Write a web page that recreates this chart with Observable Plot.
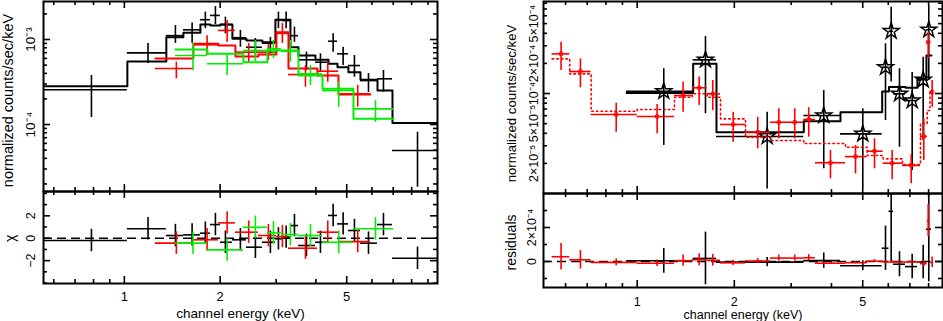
<!DOCTYPE html>
<html><head><meta charset="utf-8">
<script src="https://cdn.jsdelivr.net/npm/d3@7"></script>
<script src="https://cdn.jsdelivr.net/npm/@observablehq/plot@0.6"></script>
<style>
html,body{margin:0;padding:0;background:#fff;}
#wrap{position:relative;width:943px;height:321px;overflow:hidden;background:#fff;}
</style></head>
<body><div id="wrap"></div>
<script>
// ===== LEFT PANEL DATA (black / red / green groups) =====
const lBlackLo = [0.557, 1.022, 1.355, 1.533, 1.734, 1.864, 2.004, 2.186, 2.419, 2.716, 2.984, 3.139, 3.327, 3.526, 3.987, 4.381, 4.676, 5.062, 5.523, 6.247, 6.963];
const lBlackHi = [1.022, 1.355, 1.533, 1.734, 1.864, 2.004, 2.186, 2.419, 2.716, 2.984, 3.139, 3.327, 3.526, 3.987, 4.381, 4.676, 5.062, 5.523, 6.247, 6.963, 9.645];
const lBlackE  = [0.788, 1.187, 1.447, 1.633, 1.797, 1.933, 2.078, 2.316, 2.582, 2.878, 3.050, 3.225, 3.425, 3.736, 4.134, 4.532, 4.872, 5.287, 5.853, 6.523, 8.346];
const lBlackY  = [2.56e-4, 6.97e-4, 1.11e-3, 1.30e-3, 1.71e-3, 1.92e-3, 1.50e-3, 1.05e-3, 8.11e-4, 9.05e-4, 1.71e-3, 1.67e-3, 1.11e-3, 5.77e-4, 5.41e-4, 9.55e-4, 6.79e-4, 4.94e-4, 3.29e-4, 3.45e-4, 4.94e-5];
const lBlackYHi= [3.77e-4, 8.97e-4, 1.46e-3, 1.56e-3, 2.10e-3, 2.44e-3, 1.83e-3, 1.28e-3, 1.03e-3, 1.06e-3, 2.10e-3, 2.10e-3, 1.40e-3, 7.10e-4, 6.79e-4, 1.17e-3, 8.11e-4, 6.49e-4, 3.98e-4, 4.32e-4, 8.11e-5];
const lBlackYLo= [1.21e-4, 5.22e-4, 8.97e-4, 9.05e-4, 1.34e-3, 1.50e-3, 1.17e-3, 8.11e-4, 6.49e-4, 6.79e-4, 1.34e-3, 1.34e-3, 9.29e-4, 4.32e-4, 4.12e-4, 7.10e-4, 4.94e-4, 3.60e-4, 2.38e-4, 2.40e-4, 1.83e-5];
const lBlackModel = [2.82e-4, 5.51e-4, 1.06e-3, 1.20e-3, 1.50e-3, 1.46e-3, 1.50e-3, 1.02e-3, 9.73e-4, 9.29e-4, 1.71e-3, 1.71e-3, 8.11e-4, 6.49e-4, 5.77e-4, 5.18e-4, 4.72e-4, 4.12e-4, 3.36e-4, 2.51e-4, 1.04e-4];
const lBlackChi = [-0.2, 0.84, 0.24, 0.3, 0.45, 1.22, -0.36, -0.14, -0.8, -0.36, -0.05, 0.1, 1.13, -0.65, -0.36, 2.03, 1.28, 0.69, -0.44, 1.22, -1.79];

const lRedLo = [1.252, 1.648, 1.975, 2.234, 2.638, 3.006, 3.280, 4.045, 4.710];
const lRedHi = [1.648, 1.975, 2.234, 2.638, 3.006, 3.280, 4.045, 4.710, 5.937];
const lRedE  = [1.457, 1.820, 2.104, 2.460, 2.836, 3.139, 3.709, 4.359, 5.415];
const lRedY  = [4.56e-4, 8.66e-4, 1.28e-3, 7.10e-4, 7.10e-4, 1.18e-3, 3.87e-4, 4.24e-4, 2.30e-4];
const lRedYHi= [5.41e-4, 1.11e-3, 1.67e-3, 8.97e-4, 8.73e-4, 1.54e-3, 4.94e-4, 5.41e-4, 2.88e-4];
const lRedYLo= [3.45e-4, 6.49e-4, 9.22e-4, 5.22e-4, 5.66e-4, 8.97e-4, 2.75e-4, 3.15e-4, 1.60e-4];
const lRedModel = [5.98e-4, 8.90e-4, 8.50e-4, 6.31e-4, 6.67e-4, 1.22e-3, 4.56e-4, 3.77e-4, 2.25e-4];
const lRedChi = [-0.44, -0.14, 1.37, 0.54, 0.24, 0.15, -0.89, 0.54, -0.3];

const lGreenLo = [1.447, 1.824, 2.367, 2.817, 3.117, 3.526, 4.195, 5.250];
const lGreenHi = [1.824, 2.367, 2.817, 3.117, 3.526, 4.195, 5.250, 7.014];
const lGreenE  = [1.644, 2.104, 2.582, 2.942, 3.327, 3.846, 4.720, 6.157];
const lGreenY  = [6.49e-4, 5.18e-4, 7.43e-4, 7.77e-4, 7.28e-4, 3.95e-4, 2.51e-4, 1.53e-4];
const lGreenYHi= [8.97e-4, 6.84e-4, 9.73e-4, 9.73e-4, 9.73e-4, 4.94e-4, 3.15e-4, 1.91e-4];
const lGreenYLo= [4.32e-4, 3.77e-4, 5.41e-4, 5.98e-4, 5.41e-4, 2.88e-4, 1.60e-4, 1.06e-4];
const lGreenModel = [7.62e-4, 6.79e-4, 5.41e-4, 7.43e-4, 7.43e-4, 3.77e-4, 2.63e-4, 1.17e-4];
const lGreenChi = [-0.44, -1.04, 0.98, 0.48, 0.33, 0.24, -0.36, 0.84];

// ===== RIGHT PANEL DATA (black stars / red crosses) =====
const rRedLo = [0.545, 0.618, 0.720, 1.000, 1.305, 1.481, 1.648, 1.812, 2.166, 2.589, 2.985, 3.283, 3.568, 4.421, 5.161, 5.785, 6.640, 7.549, 7.919, 8.078];
const rRedHi = [0.618, 0.720, 1.000, 1.305, 1.481, 1.648, 1.812, 2.166, 2.589, 2.985, 3.283, 3.568, 4.421, 5.161, 5.785, 6.640, 7.549, 7.919, 8.078, 8.283];
const rRedE  = [0.581, 0.667, 0.861, 1.153, 1.388, 1.556, 1.715, 1.984, 2.364, 2.747, 3.078, 3.402, 3.972, 4.749, 5.438, 6.168, 7.066, 7.730, 7.976, 8.207];
const rRedY  = [2.49e-4, 1.66e-4, 6.17e-5, 5.89e-5, 9.55e-5, 1.14e-4, 9.93e-5, 4.90e-5, 4.10e-5, 5.16e-5, 5.16e-5, 5.50e-5, 2.03e-5, 2.34e-5, 2.65e-5, 2.01e-5, 1.91e-5, 3.72e-5, 3.26e-4, 1.03e-4];
const rRedYHi= [3.26e-4, 2.22e-4, 8.0e-5, 7.76e-5, 1.30e-4, 1.46e-4, 1.35e-4, 6.5e-5, 5.79e-5, 7.03e-5, 7.03e-5, 7.2e-5, 2.69e-5, 3.02e-5, 3.52e-5, 2.69e-5, 2.45e-5, 5.58e-5, 4.10e-4, 1.35e-4];
const rRedYLo= [1.70e-4, 1.14e-4, 4.10e-5, 3.95e-5, 6.5e-5, 7.59e-5, 6.76e-5, 3.26e-5, 2.80e-5, 3.52e-5, 3.52e-5, 3.66e-5, 1.40e-5, 1.57e-5, 1.77e-5, 1.37e-5, 1.25e-5, 2.14e-5, 2.22e-4, 7.3e-5];
const rRedModel = [2.22e-4, 1.57e-4, 6.65e-5, 6.92e-5, 9.18e-5, 9.93e-5, 9.18e-5, 5.58e-5, 3.66e-5, 3.39e-5, 3.39e-5, 3.16e-5, 3.16e-5, 2.90e-5, 2.40e-5, 2.22e-5, 1.95e-5, 5.01e-5, 6.76e-5, 1.07e-4];
const rRedResid = [0.28e-4, 0.1e-4, -0.05e-4, -0.1e-4, 0.05e-4, 0.1e-4, 0.07e-4, -0.08e-4, 0.03e-4, 0.2e-4, 0.2e-4, 0.22e-4, -0.1e-4, -0.07e-4, 0.02e-4, -0.03e-4, -0.03e-4, -0.13e-4, 2.4e-4, -0.05e-4];
const rRedResidErr = [0.78e-4, 0.54e-4, 0.2e-4, 0.19e-4, 0.33e-4, 0.35e-4, 0.34e-4, 0.16e-4, 0.15e-4, 0.18e-4, 0.18e-4, 0.18e-4, 0.065e-4, 0.07e-4, 0.09e-4, 0.07e-4, 0.06e-4, 0.17e-4, 0.94e-4, 0.31e-4];

const rBlackLo = [0.927, 1.491, 1.761, 3.283, 4.266, 5.744, 6.029, 6.226, 6.783, 7.389, 7.878];
const rBlackHi = [1.491, 1.761, 3.283, 4.266, 5.744, 6.029, 6.226, 6.783, 7.389, 7.878, 8.166];
const rBlackE  = [1.209, 1.628, 2.528, 3.786, 5.002, 5.882, 6.125, 6.499, 7.115, 7.697, 8.010];
const rBlackY  = [1.05e-4, 2.17e-4, 3.72e-5, 6.03e-5, 3.95e-5, 1.83e-4, 4.20e-4, 9.93e-5, 8.51e-5, 1.37e-4, 4.34e-4];
const rBlackYHi= [1.77e-4, 3.72e-4, 6.5e-5, 1.07e-4, 7.03e-5, 3.14e-4, 7.3e-4, 1.77e-4, 1.62e-4, 2.31e-4, 7.59e-4];
const rBlackYLo= [3.02e-5, 6.27e-5, 1.11e-5, 1.77e-5, 1.16e-5, 5.37e-5, 1.30e-4, 2.90e-5, 1.70e-5, 3.39e-5, 1.35e-4];
const rBlackModel = [1.01e-4, 1.98e-4, 4.10e-5, 5.28e-5, 6.5e-5, 1.05e-4, 1.16e-4, 1.16e-4, 1.14e-4, 1.40e-4, 2.40e-4];
const rBlackResid = [0.04e-4, 0.18e-4, -0.04e-4, 0.05e-4, -0.25e-4, 0.78e-4, 2.95e-4, -0.16e-4, -0.3e-4, -0.03e-4, 1.9e-4];
const rBlackResidErr = [0.73e-4, 1.55e-4, 0.27e-4, 0.45e-4, 0.29e-4, 1.3e-4, 3.0e-4, 0.74e-4, 0.72e-4, 0.99e-4, 3.1e-4];

// ===== AXES: domains, ticks, labels =====
const leftXDomain = [0.557, 9.645];
const rightXDomain = [0.5125, 8.834];
const leftUpperY = [1.63e-5, 2.80e-3];
const leftChiY = [-4.04, 4.17];
const rightUpperY = [1.0e-5, 8.32e-4];
const rightResidY = [-1.53e-4, 4.0e-4];

const xMajorTicks = [1, 2, 5];
const xMinorTicks = [0.6, 0.7, 0.8, 0.9, 3, 4, 6, 7, 8, 9];
const xTickText = ["1", "2", "5"];
const leftYMajor = [1e-4, 1e-3];
const leftYMinor = [2e-5, 3e-5, 4e-5, 5e-5, 6e-5, 7e-5, 8e-5, 9e-5, 2e-4, 3e-4, 4e-4, 5e-4, 6e-4, 7e-4, 8e-4, 9e-4, 2e-3];
const leftYLabelVals = [1e-3, 1e-4];
const leftYLabelText = ["10\u207B\u00B3", "10\u207B\u2074"];
const chiMajor = [-2, 0, 2];
const chiMinor = [-4, -3, -1, 1, 3, 4];
const chiLabelText = ["\u22122", "0", "2"];
const rightYMajor = [1e-4];
const rightYMinor = [2e-5, 3e-5, 4e-5, 5e-5, 6e-5, 7e-5, 8e-5, 9e-5, 2e-4, 3e-4, 4e-4, 5e-4, 6e-4, 7e-4, 8e-4];
const rightYLabelVals = [2e-5, 5e-5, 1e-4, 2e-4, 5e-4];
const rightYLabelText = ["2\u00D710\u207B\u2075", "5\u00D710\u207B\u2075", "10\u207B\u2074", "2\u00D710\u207B\u2074", "5\u00D710\u207B\u2074"];
const residMajor = [0, 2e-4];
const residMinor = [-1e-4, 1e-4, 3e-4];
const residLabelText = ["0", "2\u00D710\u207B\u2074"];

const yTitle = "normalized counts/sec/keV";
const xTitle = "channel energy (keV)";

// ===== helpers =====
const FONT = "'Liberation Sans', Arial, Helvetica, sans-serif";
const RED = "#ff0000", GREEN = "#00ee00", BLACK = "#000000";
const TXT = {fill: BLACK, textAnchor: "middle", lineAnchor: "middle"};

function rowsOf(lo, hi, e, y, ylo, yhi, model, res, resErr) {
  return lo.map((l, i) => ({lo: l, hi: hi[i], e: e[i], y: y[i], ylo: ylo[i], yhi: yhi[i],
    model: model[i], res: res[i], resErr: resErr ? resErr[i] : 1}));
}
function stepsOf(rows) {
  return rows.flatMap(r => [{x: r.lo, y: r.model}, {x: r.hi, y: r.model}]);
}
function frameTicks(xMaj, xMin, yMaj, yMin, iw, ih, xDom) {
  const out = [], sw = 1.6;
  const inX = v => v >= xDom[0] && v <= xDom[1];
  for (const [vals, L] of [[xMaj.filter(inX), 7], [xMin.filter(inX), 4]]) {
    out.push(Plot.tickX(vals, {x: d => d, insetTop: ih - L, stroke: BLACK, strokeWidth: sw}));
    out.push(Plot.tickX(vals, {x: d => d, insetBottom: ih - L, stroke: BLACK, strokeWidth: sw}));
  }
  for (const [vals, L] of [[yMaj, 7], [yMin, 4]]) {
    out.push(Plot.tickY(vals, {y: d => d, insetRight: iw - L, stroke: BLACK, strokeWidth: sw}));
    out.push(Plot.tickY(vals, {y: d => d, insetLeft: iw - L, stroke: BLACK, strokeWidth: sw}));
  }
  return out;
}
function crossMarks(rows, color, yKey, y1, y2, sw = 1.6) {
  return [
    Plot.ruleY(rows, {y: yKey, x1: "lo", x2: "hi", stroke: color, strokeWidth: sw, clip: true}),
    Plot.ruleX(rows, {x: "e", y1, y2, stroke: color, strokeWidth: sw, clip: true})
  ];
}
function panel(o) {
  return Plot.plot({
    width: o.width, height: o.height,
    marginLeft: o.ml, marginRight: o.mr, marginTop: o.mt, marginBottom: o.mb,
    x: {type: "log", domain: o.xDomain, axis: null},
    y: {type: o.yType, domain: o.yDomain, axis: null},
    style: {background: "transparent", overflow: "visible", fontFamily: FONT, color: "#000"},
    marks: o.marks
  });
}
function place(svg, left, top) {
  svg.style.position = "absolute";
  svg.style.left = left + "px";
  svg.style.top = top + "px";
  document.getElementById("wrap").appendChild(svg);
}

const lBlack = rowsOf(lBlackLo, lBlackHi, lBlackE, lBlackY, lBlackYLo, lBlackYHi, lBlackModel, lBlackChi);
const lRed = rowsOf(lRedLo, lRedHi, lRedE, lRedY, lRedYLo, lRedYHi, lRedModel, lRedChi);
const lGreen = rowsOf(lGreenLo, lGreenHi, lGreenE, lGreenY, lGreenYLo, lGreenYHi, lGreenModel, lGreenChi);
const rBlack = rowsOf(rBlackLo, rBlackHi, rBlackE, rBlackY, rBlackYLo, rBlackYHi, rBlackModel, rBlackResid, rBlackResidErr);
const rRed = rowsOf(rRedLo, rRedHi, rRedE, rRedY, rRedYLo, rRedYHi, rRedModel, rRedResid, rRedResidErr);

// ===== LEFT UPPER =====
{
  const W = 470, H = 192, ml = 43, mr = 33, mt = 1, mb = 1;
  const marks = [Plot.frame({stroke: BLACK, strokeWidth: 2})];
  marks.push(...frameTicks(xMajorTicks, xMinorTicks, leftYMajor, leftYMinor, W - ml - mr, H - mt - mb, leftXDomain));
  for (const [rows, c] of [[lBlack, BLACK], [lRed, RED], [lGreen, GREEN]]) {
    marks.push(Plot.line(stepsOf(rows), {x: "x", y: "y", stroke: c, strokeWidth: 2, clip: true}));
    marks.push(...crossMarks(rows, c, "y", "ylo", "yhi"));
  }
  marks.push(Plot.text(leftYLabelVals, {...TXT, y: d => d, text: (d, i) => leftYLabelText[i], frameAnchor: "left", dx: -13, rotate: -90, fontSize: 13.5}));
  marks.push(Plot.text([yTitle], {...TXT, text: d => d, frameAnchor: "left", dx: -35, dy: 4, rotate: -90, fontSize: 14.5}));
  place(panel({width: W, height: H, ml, mr, mt, mb, xDomain: leftXDomain, yType: "log", yDomain: leftUpperY, marks}), 0, 0);
}
// ===== LEFT LOWER (chi) =====
{
  const W = 470, H = 130, ml = 43, mr = 33, mt = 0, mb = 38;
  const marks = [Plot.frame({stroke: BLACK, strokeWidth: 2})];
  marks.push(...frameTicks(xMajorTicks, xMinorTicks, chiMajor, chiMinor, W - ml - mr, H - mt - mb, leftXDomain));
  marks.push(Plot.ruleY([0], {stroke: BLACK, strokeWidth: 1.6, strokeDasharray: "9,5"}));
  for (const [rows, c] of [[lBlack, BLACK], [lRed, RED], [lGreen, GREEN]]) {
    marks.push(...crossMarks(rows, c, "res", d => d.res - 1, d => d.res + 1));
  }
  marks.push(Plot.text(chiMajor, {...TXT, y: d => d, text: (d, i) => chiLabelText[i], frameAnchor: "left", dx: -13, rotate: -90, fontSize: 12.5}));
  marks.push(Plot.text(["\u03C7"], {...TXT, y: () => 0, text: d => d, frameAnchor: "left", dx: -33, rotate: -90, fontSize: 14}));
  marks.push(Plot.text(xMajorTicks, {...TXT, x: d => d, text: (d, i) => xTickText[i], frameAnchor: "bottom", dy: 13, fontSize: 13}));
  marks.push(Plot.text([xTitle], {...TXT, text: d => d, frameAnchor: "bottom", dy: 30, fontSize: 13.5}));
  place(panel({width: W, height: H, ml, mr, mt, mb, xDomain: leftXDomain, yType: "linear", yDomain: leftChiY, marks}), 0, 191);
}
// ===== RIGHT UPPER =====
{
  const W = 473, H = 194, ml = 73, mr = 1, mt = 1, mb = 1;
  const marks = [Plot.frame({stroke: BLACK, strokeWidth: 2})];
  marks.push(...frameTicks(xMajorTicks, xMinorTicks, rightYMajor, rightYMinor, W - ml - mr, H - mt - mb, rightXDomain));
  marks.push(Plot.line(stepsOf(rBlack), {x: "x", y: "y", stroke: BLACK, strokeWidth: 2, clip: true}));
  marks.push(...crossMarks(rBlack, BLACK, "y", "ylo", "yhi"));
  marks.push(Plot.dot(rBlack, {x: "e", y: "y", symbol: "star", r: 5, stroke: BLACK, fill: "none", strokeWidth: 1.5}));
  marks.push(Plot.line(stepsOf(rRed), {x: "x", y: "y", stroke: RED, strokeWidth: 1.6, strokeDasharray: "1.6,3", clip: true}));
  marks.push(...crossMarks(rRed, RED, "y", "ylo", "yhi"));
  marks.push(Plot.dot(rRed, {x: "e", y: "y", r: 2, stroke: RED, fill: "none", strokeWidth: 1}));
  marks.push(Plot.text(rightYLabelVals, {...TXT, y: d => d, text: (d, i) => rightYLabelText[i], frameAnchor: "left", dx: -10, rotate: -90, fontSize: 12.5}));
  marks.push(Plot.text([yTitle], {...TXT, text: d => d, frameAnchor: "left", dx: -32, dy: 6, rotate: -90, fontSize: 13.2}));
  place(panel({width: W, height: H, ml, mr, mt, mb, xDomain: rightXDomain, yType: "log", yDomain: rightUpperY, marks}), 470, 0);
}
// ===== RIGHT LOWER (residuals) =====
{
  const W = 473, H = 128, ml = 73, mr = 1, mt = 0, mb = 34;
  const top = rightResidY[1];
  const marks = [Plot.frame({stroke: BLACK, strokeWidth: 2})];
  marks.push(...frameTicks(xMajorTicks, xMinorTicks, residMajor, residMinor, W - ml - mr, H - mt - mb, rightXDomain));
  marks.push(Plot.ruleY([0], {stroke: BLACK, strokeWidth: 1.6, strokeDasharray: "9,5"}));
  marks.push(...crossMarks(rBlack, BLACK, "res", d => d.res - d.resErr, d => Math.min(top, d.res + d.resErr)));
  marks.push(...crossMarks(rRed, RED, "res", d => d.res - d.resErr, d => Math.min(top, d.res + d.resErr)));
  marks.push(Plot.text(residMajor, {...TXT, y: d => d, text: (d, i) => residLabelText[i], frameAnchor: "left", dx: -12, rotate: -90, fontSize: 12.5}));
  marks.push(Plot.text(["residuals"], {...TXT, text: d => d, frameAnchor: "left", dx: -32, dy: 2, rotate: -90, fontSize: 14}));
  marks.push(Plot.text(xMajorTicks, {...TXT, x: d => d, text: (d, i) => xTickText[i], frameAnchor: "bottom", dy: 14, fontSize: 12.5}));
  marks.push(Plot.text([xTitle], {...TXT, text: d => d, frameAnchor: "bottom", dy: 27.5, fontSize: 12.5}));
  place(panel({width: W, height: H, ml, mr, mt, mb, xDomain: rightXDomain, yType: "linear", yDomain: rightResidY, marks}), 470, 193);
}
</script>
</body></html>
